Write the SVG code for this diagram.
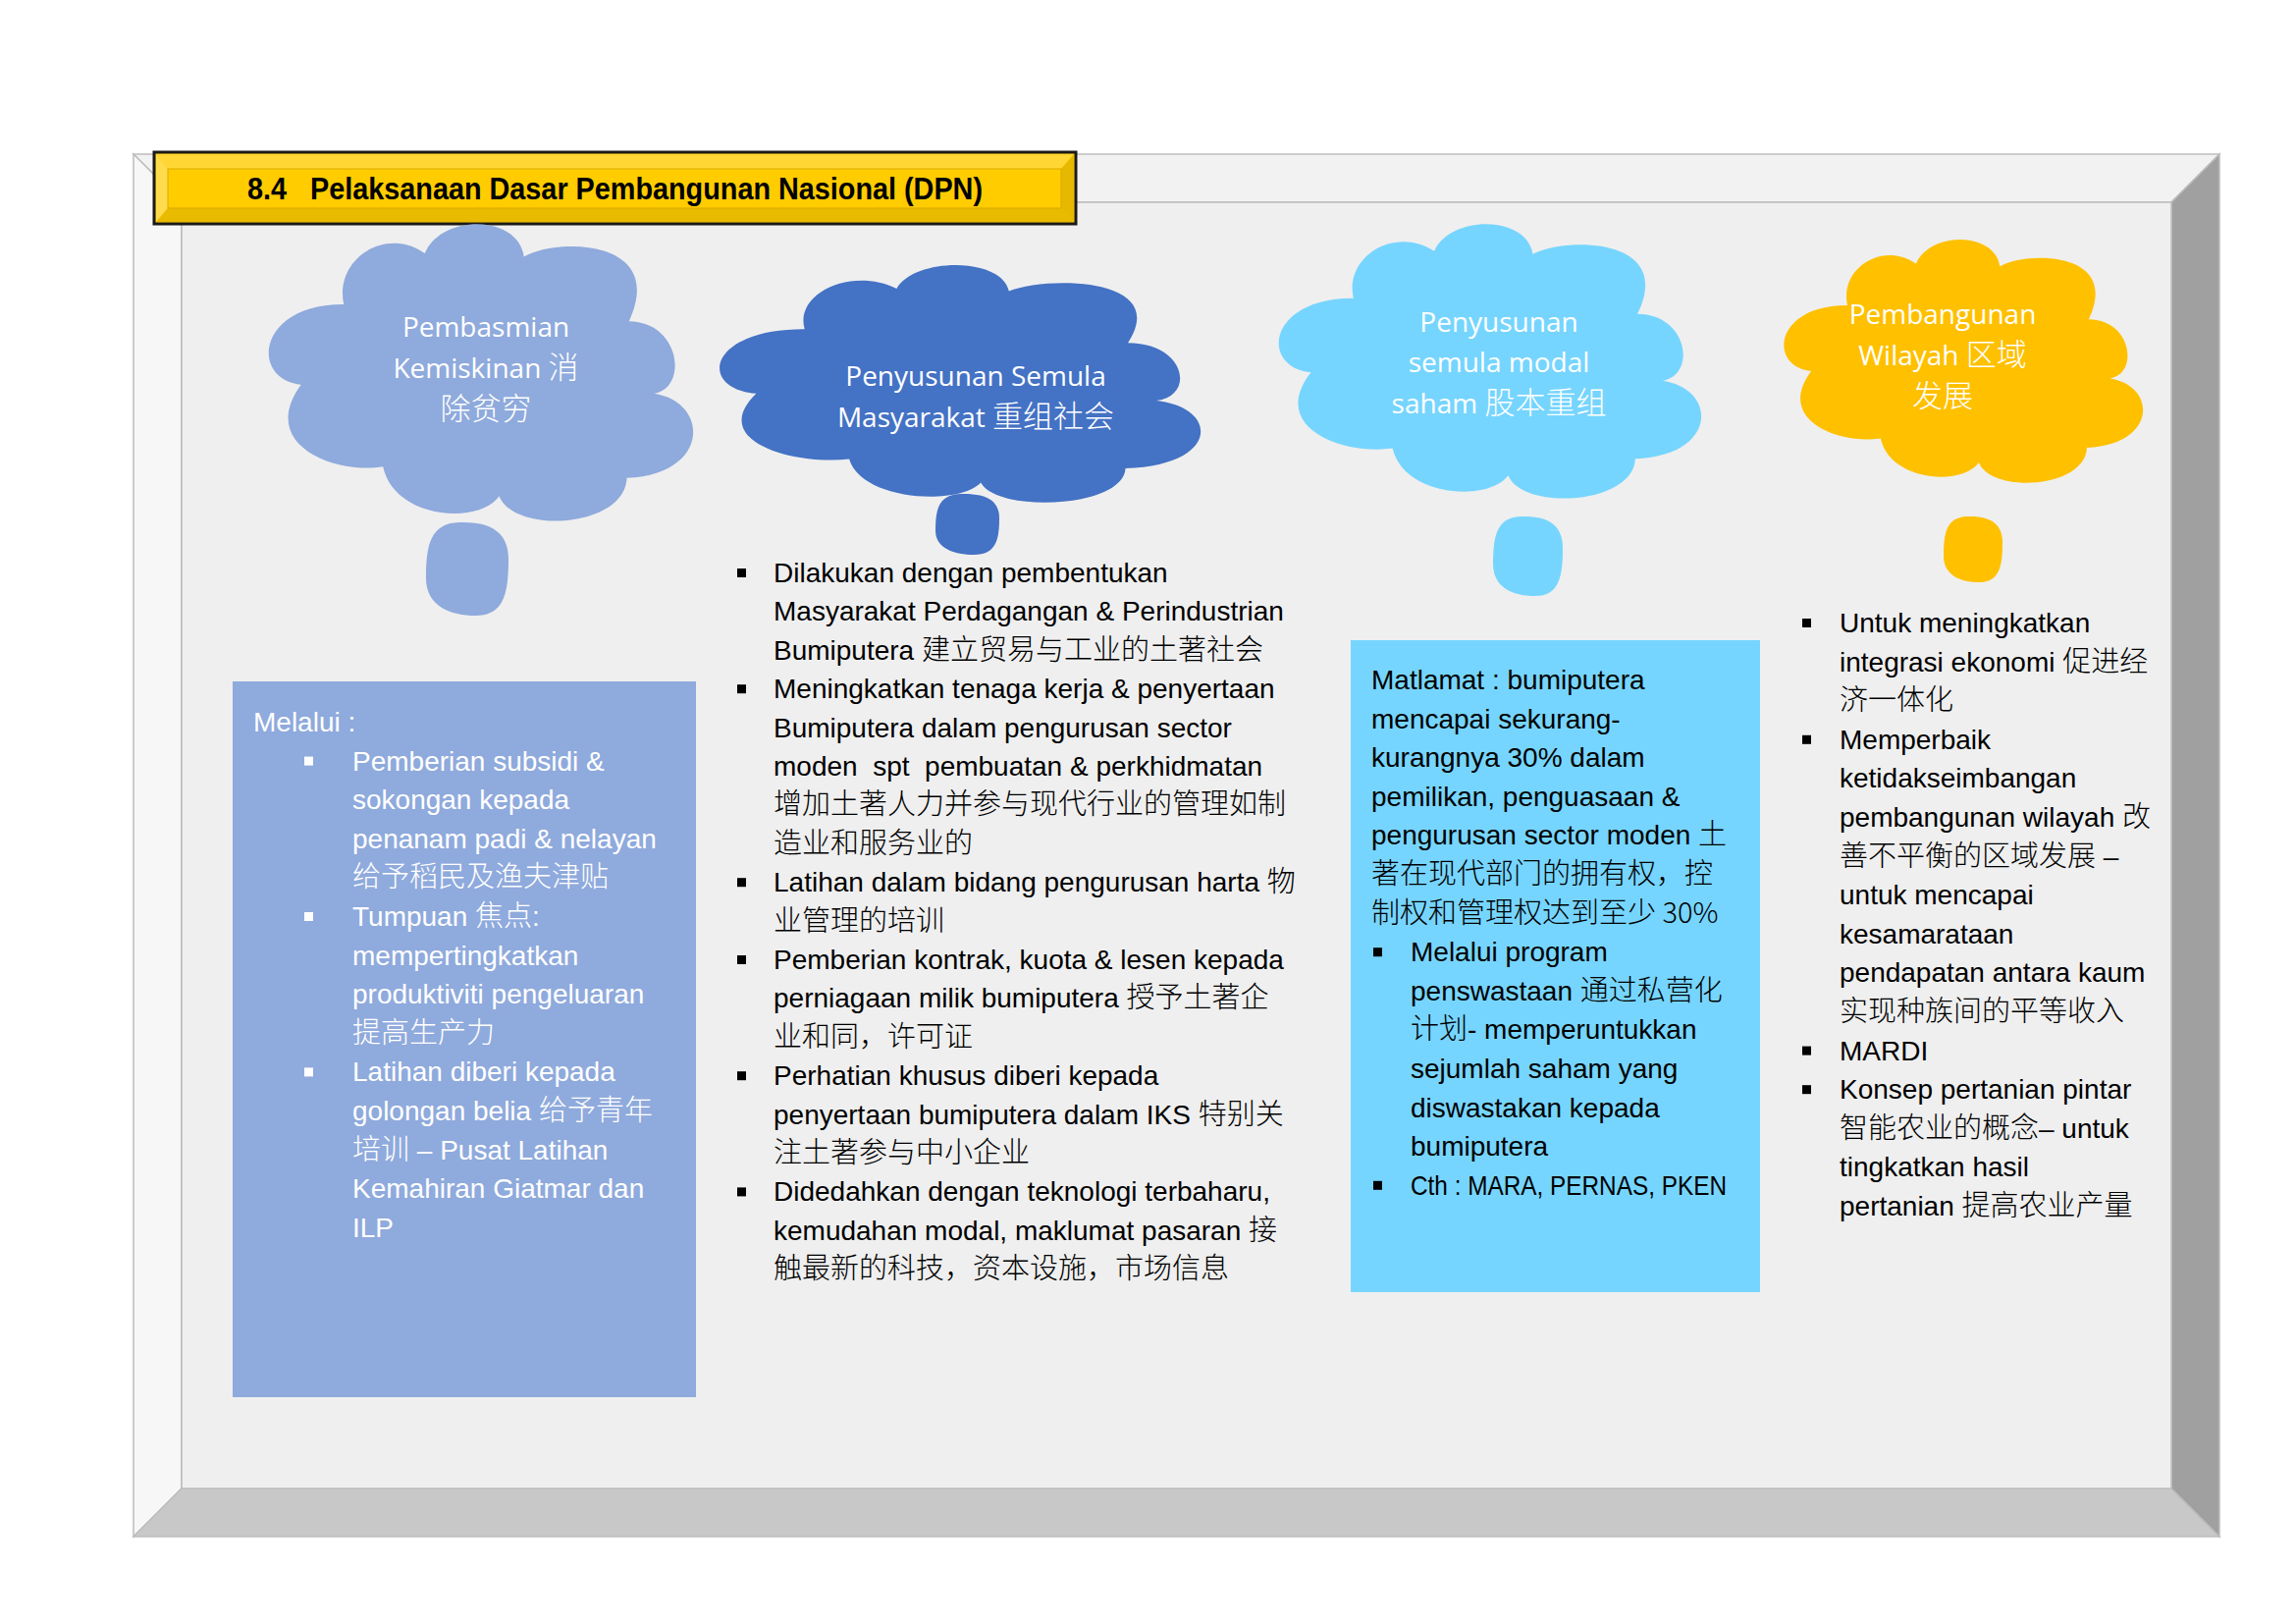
<svg xmlns="http://www.w3.org/2000/svg" xmlns:xlink="http://www.w3.org/1999/xlink" width="2339" height="1654" viewBox="0 0 2339 1654">
  <style>
    .t { font-family: "Liberation Sans", "Noto Sans CJK SC", sans-serif; font-size: 28px; white-space: pre; }
    .zh { font-family: "Noto Sans CJK SC", sans-serif; font-weight: 300; font-size: 29px; }
    .w { fill: #ffffff; }
    .k { fill: #000000; }
    .cl { font-family: "Open Sans", "Noto Sans CJK SC", sans-serif; font-size: 28px; fill: #ffffff; text-anchor: middle; white-space: pre; }
    .clz { font-family: "Noto Sans CJK SC", sans-serif; font-size: 31px; font-weight: 300; }
    .bw { fill: #ffffff; }
    .bk { fill: #000000; }
    .edge { stroke: #bdbdbd; stroke-width: 1.5; }
  </style>
  <defs>
    <!-- thought-cloud outline in a 0..100 box -->
    <path id="cloud" d="M37.2,10.2 C41,-3 59,-3 60.4,11.3 C68,5 94,5 85,32.9 C97,33 99,55 90.9,57 C104,60 104,84 84.5,85.2 C84,102 58,104 54.6,91.2 C50,101 30,99 27.4,81.4 C16,84 -2,74 8.2,54 C-4,52 -2,27 18.2,27.2 C16,12 28,1 37.2,10.2 Z"/>
    <!-- small thought bubble in a 0..100 box -->
    <path id="bubble" d="M40,0 C75,-1 100,8 100,40 C100,75 95,100 60,100 C30,100 0,90 0,60 C0,25 5,1 40,0 Z"/>
  </defs>

  <rect width="2339" height="1654" fill="#ffffff"/>

  <!-- bevelled board -->
  <g id="board">
    <polygon points="136,157 2261,157 2212,206 185,206" fill="#f2f2f2" class="edge"/>
    <polygon points="136,157 185,206 185,1516 136,1565" fill="#f7f7f7" class="edge"/>
    <polygon points="136,1565 185,1516 2212,1516 2261,1565" fill="#c8c8c8" class="edge"/>
    <polygon points="2261,157 2261,1565 2212,1516 2212,206" fill="#a0a0a0" class="edge"/>
    <rect x="185" y="206" width="2027" height="1310" fill="#efefef" class="edge"/>
  </g>

  <!-- heading plate -->
  <g id="title">
    <rect x="157" y="155" width="939" height="73" fill="#ffd000" stroke="#1a1a1a" stroke-width="3"/>
    <polygon points="159,157 1094,157 1081,172 171,172" fill="#ffd633"/>
    <polygon points="159,157 171,172 171,212 159,226" fill="#ffdb4d"/>
    <polygon points="159,226 171,212 1081,212 1094,226" fill="#e8bb00"/>
    <polygon points="1094,157 1094,226 1081,212 1081,172" fill="#e6b800"/>
    <rect x="171" y="172" width="910" height="40" fill="#ffcc00" stroke="#d9a900" stroke-width="1"/>
    <text x="252" y="203" class="t" xml:space="preserve" style="font-weight:bold;font-size:32px" textLength="749" lengthAdjust="spacingAndGlyphs">8.4   Pelaksanaan Dasar Pembangunan Nasional (DPN)</text>
  </g>

  <!-- cloud 1 -->
  <g id="cloud-pembasmian">
    <use xlink:href="#cloud" href="#cloud" fill="#8faadc" transform="translate(271,227) scale(4.35,3.05)"/>
    <use xlink:href="#bubble" href="#bubble" fill="#8faadc" transform="translate(434,532) scale(0.84,0.95)"/>
    <text class="cl" x="495" y="343">Pembasmian</text>
    <text class="cl" x="495" y="385">Kemiskinan <tspan class="clz">消</tspan></text>
    <text class="cl" x="495" y="427"><tspan class="clz">除贫穷</tspan></text>
  </g>

  <!-- cloud 2 -->
  <g id="cloud-penyusunan-masyarakat">
    <use xlink:href="#cloud" href="#cloud" fill="#4472c4" transform="translate(730,269) scale(4.93,2.44)"/>
    <use xlink:href="#bubble" href="#bubble" fill="#4472c4" transform="translate(953,503) scale(0.65,0.62)"/>
    <text class="cl" x="994" y="393">Penyusunan Semula</text>
    <text class="cl" x="994" y="435">Masyarakat <tspan class="clz">重组社会</tspan></text>
  </g>

  <!-- cloud 3 -->
  <g id="cloud-penyusunan-modal">
    <use xlink:href="#cloud" href="#cloud" fill="#76d5fe" transform="translate(1300,227) scale(4.33,2.82)"/>
    <use xlink:href="#bubble" href="#bubble" fill="#76d5fe" transform="translate(1521,526) scale(0.71,0.81)"/>
    <text class="cl" x="1527" y="338">Penyusunan</text>
    <text class="cl" x="1527" y="379">semula modal</text>
    <text class="cl" x="1527" y="421">saham <tspan class="clz">股本重组</tspan></text>
  </g>

  <!-- cloud 4 -->
  <g id="cloud-pembangunan-wilayah">
    <use xlink:href="#cloud" href="#cloud" fill="#ffc000" transform="translate(1815,243) scale(3.68,2.50)"/>
    <use xlink:href="#bubble" href="#bubble" fill="#ffc000" transform="translate(1980,526) scale(0.60,0.67)"/>
    <text class="cl" x="1979" y="330">Pembangunan</text>
    <text class="cl" x="1979" y="372">Wilayah <tspan class="clz">区域</tspan></text>
    <text class="cl" x="1979" y="414"><tspan class="clz">发展</tspan></text>
  </g>

  <!-- column 1: box under cloud 1 -->
  <g id="box-melalui">
    <rect x="237" y="694" width="472" height="729" fill="#8faadc"/>
    <rect class="bw" x="310" y="770.6" width="9" height="9"/>
    <rect class="bw" x="310" y="929" width="9" height="9"/>
    <rect class="bw" x="310" y="1087.4" width="9" height="9"/>
    <g class="t w">
      <text x="258" y="745">Melalui :</text>
      <text x="359" y="784.6">Pemberian subsidi &amp;</text>
      <text x="359" y="824.2">sokongan kepada</text>
      <text x="359" y="863.8">penanam padi &amp; nelayan</text>
      <text x="359" y="903.4"><tspan class="zh">给予稻民及渔夫津贴</tspan></text>
      <text x="359" y="943">Tumpuan <tspan class="zh">焦点</tspan>:</text>
      <text x="359" y="982.6">mempertingkatkan</text>
      <text x="359" y="1022.2">produktiviti pengeluaran</text>
      <text x="359" y="1061.8"><tspan class="zh">提高生产力</tspan></text>
      <text x="359" y="1101.4">Latihan diberi kepada</text>
      <text x="359" y="1141">golongan belia <tspan class="zh">给予青年</tspan></text>
      <text x="359" y="1180.6"><tspan class="zh">培训</tspan> – Pusat Latihan</text>
      <text x="359" y="1220.2">Kemahiran Giatmar dan</text>
      <text x="359" y="1259.8">ILP</text>
    </g>
  </g>

  <!-- column 2: list under cloud 2 -->
  <g id="list-masyarakat">
    <rect class="bk" x="751" y="579" width="9" height="9"/>
    <rect class="bk" x="751" y="697.2" width="9" height="9"/>
    <rect class="bk" x="751" y="894.2" width="9" height="9"/>
    <rect class="bk" x="751" y="973" width="9" height="9"/>
    <rect class="bk" x="751" y="1091.2" width="9" height="9"/>
    <rect class="bk" x="751" y="1209.4" width="9" height="9"/>
    <g class="t k">
      <text x="788" y="593">Dilakukan dengan pembentukan</text>
      <text x="788" y="632.4">Masyarakat Perdagangan &amp; Perindustrian</text>
      <text x="788" y="671.8">Bumiputera <tspan class="zh">建立贸易与工业的土著社会</tspan></text>
      <text x="788" y="711.2">Meningkatkan tenaga kerja &amp; penyertaan</text>
      <text x="788" y="750.6">Bumiputera dalam pengurusan sector</text>
      <text x="788" y="790" xml:space="preserve">moden  spt  pembuatan &amp; perkhidmatan</text>
      <text x="788" y="829.4"><tspan class="zh">增加土著人力并参与现代行业的管理如制</tspan></text>
      <text x="788" y="868.8"><tspan class="zh">造业和服务业的</tspan></text>
      <text x="788" y="908.2">Latihan dalam bidang pengurusan harta <tspan class="zh">物</tspan></text>
      <text x="788" y="947.6"><tspan class="zh">业管理的培训</tspan></text>
      <text x="788" y="987">Pemberian kontrak, kuota &amp; lesen kepada</text>
      <text x="788" y="1026.4">perniagaan milik bumiputera <tspan class="zh">授予土著企</tspan></text>
      <text x="788" y="1065.8"><tspan class="zh">业和同，许可证</tspan></text>
      <text x="788" y="1105.2">Perhatian khusus diberi kepada</text>
      <text x="788" y="1144.6">penyertaan bumiputera dalam IKS <tspan class="zh">特别关</tspan></text>
      <text x="788" y="1184"><tspan class="zh">注土著参与中小企业</tspan></text>
      <text x="788" y="1223.4">Didedahkan dengan teknologi terbaharu,</text>
      <text x="788" y="1262.8">kemudahan modal, maklumat pasaran <tspan class="zh">接</tspan></text>
      <text x="788" y="1302.2"><tspan class="zh">触最新的科技，资本设施，市场信息</tspan></text>
    </g>
  </g>

  <!-- column 3: box under cloud 3 -->
  <g id="box-matlamat">
    <rect x="1376" y="652" width="417" height="664" fill="#76d5fe"/>
    <rect class="bk" x="1399" y="965.2" width="9" height="9"/>
    <rect class="bk" x="1399" y="1202.8" width="9" height="9"/>
    <g class="t k">
      <text x="1397" y="702">Matlamat : bumiputera</text>
      <text x="1397" y="741.6">mencapai sekurang-</text>
      <text x="1397" y="781.2">kurangnya 30% dalam</text>
      <text x="1397" y="820.8">pemilikan, penguasaan &amp;</text>
      <text x="1397" y="860.4">pengurusan sector moden <tspan class="zh">土</tspan></text>
      <text x="1397" y="900"><tspan class="zh">著在现代部门的拥有权，控</tspan></text>
      <text x="1397" y="939.6"><tspan class="zh">制权和管理权达到至少 30%</tspan></text>
      <text x="1437" y="979.2">Melalui program</text>
      <text x="1437" y="1018.8">penswastaan <tspan class="zh">通过私营化</tspan></text>
      <text x="1437" y="1058.4"><tspan class="zh">计划</tspan>- memperuntukkan</text>
      <text x="1437" y="1098">sejumlah saham yang</text>
      <text x="1437" y="1137.6">diswastakan kepada</text>
      <text x="1437" y="1177.2">bumiputera</text>
      <text x="1437" y="1216.8" textLength="322" lengthAdjust="spacingAndGlyphs">Cth : MARA, PERNAS, PKEN</text>
    </g>
  </g>

  <!-- column 4: list under cloud 4 -->
  <g id="list-wilayah">
    <rect class="bk" x="1836" y="630" width="9" height="9"/>
    <rect class="bk" x="1836" y="748.8" width="9" height="9"/>
    <rect class="bk" x="1836" y="1065.6" width="9" height="9"/>
    <rect class="bk" x="1836" y="1105.2" width="9" height="9"/>
    <g class="t k">
      <text x="1874" y="644">Untuk meningkatkan</text>
      <text x="1874" y="683.6">integrasi ekonomi <tspan class="zh">促进经</tspan></text>
      <text x="1874" y="723.2"><tspan class="zh">济一体化</tspan></text>
      <text x="1874" y="762.8">Memperbaik</text>
      <text x="1874" y="802.4">ketidakseimbangan</text>
      <text x="1874" y="842">pembangunan wilayah <tspan class="zh">改</tspan></text>
      <text x="1874" y="881.6"><tspan class="zh">善不平衡的区域发展</tspan> –</text>
      <text x="1874" y="921.2">untuk mencapai</text>
      <text x="1874" y="960.8">kesamarataan</text>
      <text x="1874" y="1000.4">pendapatan antara kaum</text>
      <text x="1874" y="1040"><tspan class="zh">实现种族间的平等收入</tspan></text>
      <text x="1874" y="1079.6">MARDI</text>
      <text x="1874" y="1119.2">Konsep pertanian pintar</text>
      <text x="1874" y="1158.8"><tspan class="zh">智能农业的概念</tspan>– untuk</text>
      <text x="1874" y="1198.4">tingkatkan hasil</text>
      <text x="1874" y="1238">pertanian <tspan class="zh">提高农业产量</tspan></text>
    </g>
  </g>

  <g id="connectors"/>
</svg>
